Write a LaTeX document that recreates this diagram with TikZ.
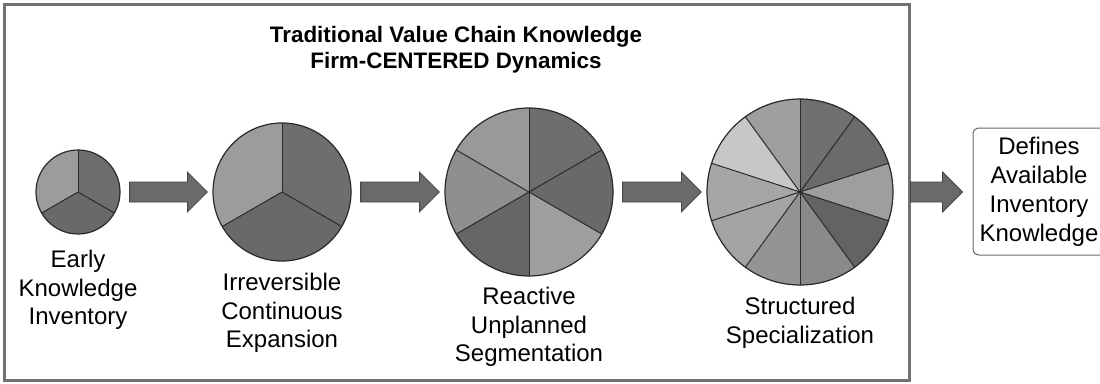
\documentclass[tikz,border=0pt]{standalone}
\usepackage{fontspec}
\setmainfont{Liberation Sans}
\usetikzlibrary{calc}
\definecolor{framegray}{HTML}{727272}
\definecolor{linedark}{HTML}{2A2A2A}
\definecolor{arrowfill}{HTML}{6A6A6A}
\definecolor{arrowline}{HTML}{444444}
\definecolor{boxline}{HTML}{6A6A6A}
\newcommand\mysector[5]{\fill[#5] (#1) -- ++(#3:#2) arc[start angle=#3, end angle=#4, radius=#2] -- cycle;}
% block arrow from coordinate #1 to coordinate #2 (horizontal)
\newcommand\myblockarrow[2]{%
  \draw[blockarrow] let \p1=(#1), \p2=(#2) in
    (\x1,\y1+10pt) -- (\x2-20pt,\y1+10pt) -- (\x2-20pt,\y1+20pt) -- (\x2,\y1)
    -- (\x2-20pt,\y1-20pt) -- (\x2-20pt,\y1-10pt) -- (\x1,\y1-10pt) -- cycle;}
\tikzset{
  pieframe/.style={circle, draw=linedark, line width=1.2pt, inner sep=0pt},
  radial/.style={draw=linedark, line width=1pt},
  blockarrow/.style={fill=arrowfill, draw=arrowline, line width=0.8pt, line join=miter},
  lbl/.style={align=center, anchor=north, inner sep=0pt, font=\fontsize{24}{28.5}\selectfont},
  ttl/.style={align=center, anchor=north, inner sep=0pt, font=\fontsize{22.4}{26}\selectfont\bfseries},
  outbox/.style={draw=boxline, line width=1pt, rounded corners=6pt, align=center,
    font=\fontsize{24}{29}\selectfont, minimum width=132pt, minimum height=127pt, inner sep=0pt},
  frame/.style={draw=framegray, line width=3pt}
}
\begin{document}
\begin{tikzpicture}[x=1pt,y=1pt]
\useasboundingbox (0,0) rectangle (1100,-383);
\fill[white] (0,0) rectangle (1100,-383);

% frame
\draw[frame] (4,-4) rectangle (909,-380);

% title
\node[ttl] (title) at (456,-26) {Traditional Value Chain Knowledge\\Firm-CENTERED Dynamics};

% centers
\coordinate (p1) at (78,-192);
\coordinate (p2) at (282,-192);
\coordinate (p3) at (529,-192);
\coordinate (p4) at (800,-192);

% pie 1
\mysector{p1}{42pt}{90}{-30}{black!57}
\mysector{p1}{42pt}{-30}{-150}{black!59}
\mysector{p1}{42pt}{-150}{-270}{black!39}
\foreach \a in {90,-30,-150} \draw[radial] (p1) -- ++(\a:42pt);
\node[pieframe, minimum size=84pt] (c1) at (p1) {};

% pie 2
\mysector{p2}{69pt}{90}{-30}{black!57}
\mysector{p2}{69pt}{-30}{-150}{black!59}
\mysector{p2}{69pt}{-150}{-270}{black!39}
\foreach \a in {90,-30,-150} \draw[radial] (p2) -- ++(\a:69pt);
\node[pieframe, minimum size=138pt] (c2) at (p2) {};

% pie 3
\mysector{p3}{84pt}{90}{30}{black!57}
\mysector{p3}{84pt}{30}{-30}{black!59}
\mysector{p3}{84pt}{-30}{-90}{black!38}
\mysector{p3}{84pt}{-90}{-150}{black!60}
\mysector{p3}{84pt}{-150}{-210}{black!44}
\mysector{p3}{84pt}{150}{90}{black!40}
\foreach \a in {90,30,-30,-90,-150,150} \draw[radial] (p3) -- ++(\a:84pt);
\node[pieframe, minimum size=168pt] (c3) at (p3) {};

% pie 4
\mysector{p4}{93pt}{90}{54}{black!56}
\mysector{p4}{93pt}{54}{18}{black!58}
\mysector{p4}{93pt}{18}{-18}{black!38}
\mysector{p4}{93pt}{-18}{-54}{black!61}
\mysector{p4}{93pt}{-54}{-90}{black!46}
\mysector{p4}{93pt}{-90}{-126}{black!42}
\mysector{p4}{93pt}{-126}{-162}{black!36}
\mysector{p4}{93pt}{-162}{-198}{black!35}
\mysector{p4}{93pt}{162}{126}{black!22}
\mysector{p4}{93pt}{126}{90}{black!38}
\foreach \a in {90,54,18,-18,-54,-90,-126,-162,162,126} \draw[radial] (p4) -- ++(\a:93pt);
\node[pieframe, minimum size=186pt] (c4) at (p4) {};

% labels
\node[lbl] (l1) at (78,-250) {Early\\Knowledge\\Inventory};
\node[lbl] (l2) at (282,-273) {Irreversible\\Continuous\\Expansion};
\node[lbl] (l3) at (529,-287) {Reactive\\Unplanned\\Segmentation};
\node[lbl] (l4) at (800,-297) {Structured\\Specialization};

% output box
\node[outbox] (out) at (1039,-191.5) {Defines\\Available\\Inventory\\Knowledge};

% arrow end points
\coordinate (s1) at ($(c1.east)+(9,0)$);  \coordinate (e1) at ($(c2.west)+(-5,0)$);
\coordinate (s2) at ($(c2.east)+(9,0)$);  \coordinate (e2) at ($(c3.west)+(-5,0)$);
\coordinate (s3) at ($(c3.east)+(9,0)$);  \coordinate (e3) at ($(c4.west)+(-5,0)$);
\coordinate (s4) at (910.5,-192);        \coordinate (e4) at ($(out.west)+(-10,0)$);

% arrows
\myblockarrow{s1}{e1}
\myblockarrow{s2}{e2}
\myblockarrow{s3}{e3}
\myblockarrow{s4}{e4}
\end{tikzpicture}
\end{document}
